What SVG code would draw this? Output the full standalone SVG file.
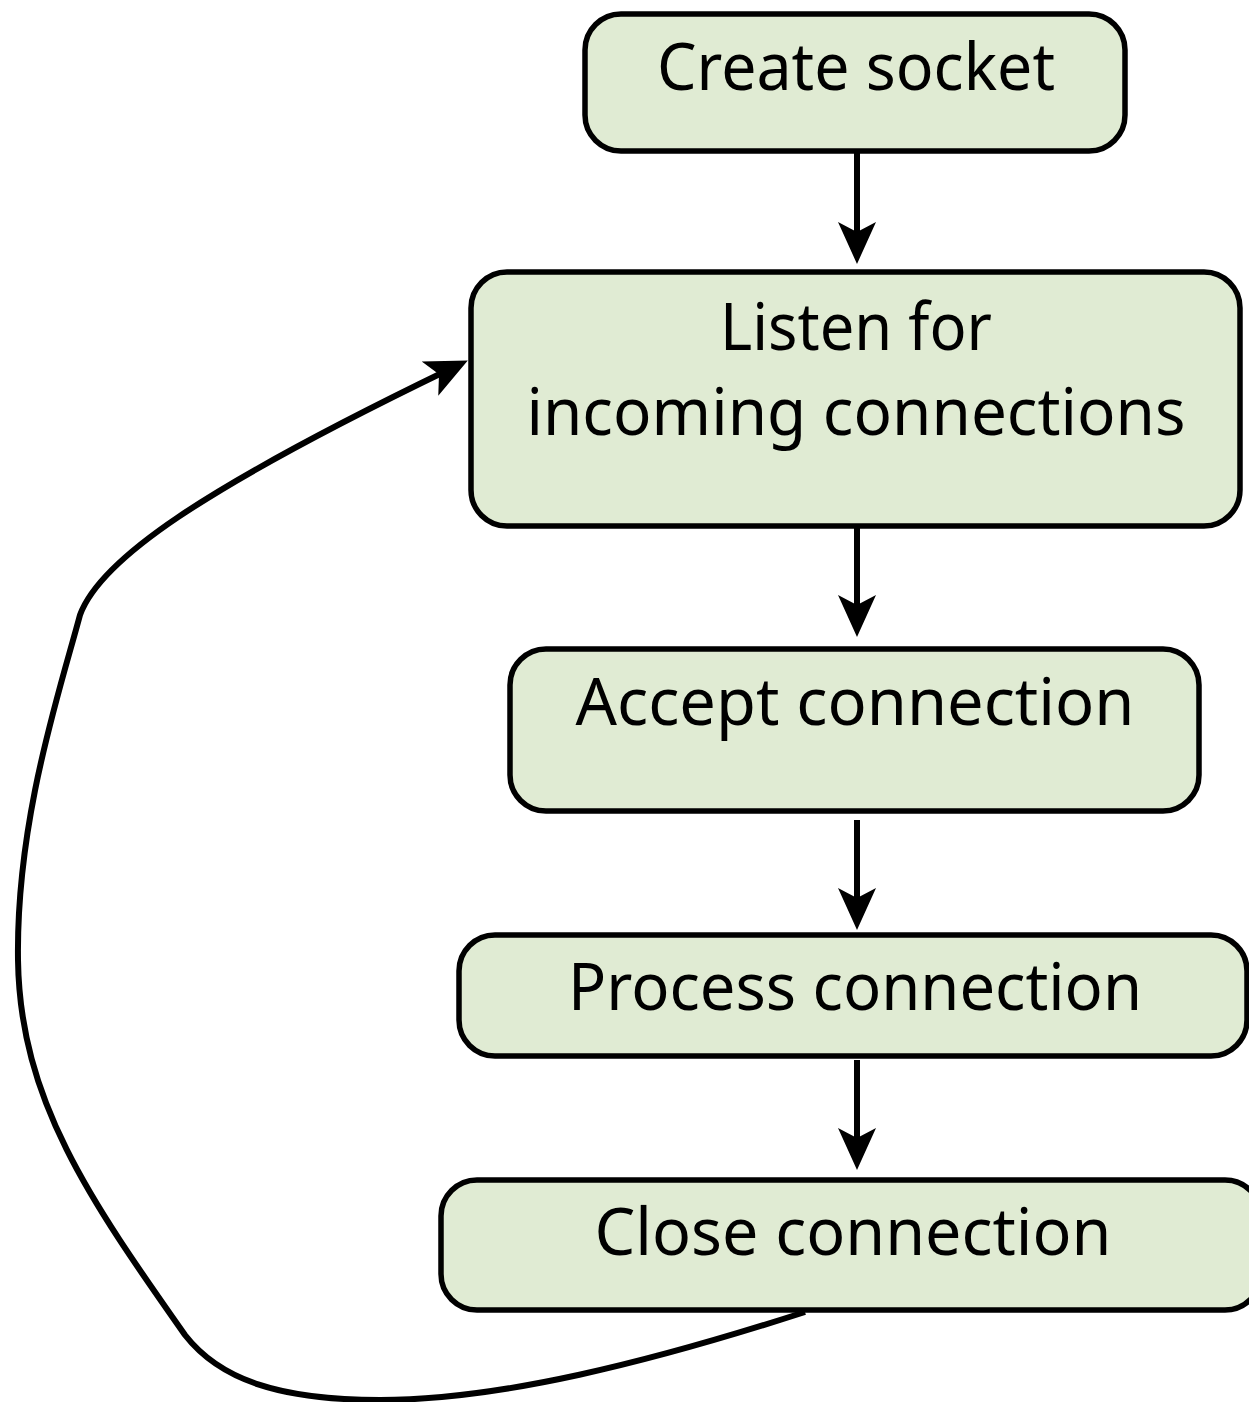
<svg xmlns="http://www.w3.org/2000/svg" width="1249" height="1402" viewBox="0 0 1249 1402">
  <style>
    .box { fill: #e0ebd3; stroke: #000; stroke-width: 5.5; }
    .lbl { font-family: "Noto Sans", "Open Sans", sans-serif; font-size: 66px; fill: #000; text-anchor: middle; }
    .edge { fill: none; stroke: #000; stroke-width: 6; }
  </style>
  <defs>
    <!-- arrowhead with a notched back; tip sits 22px past the path end -->
    <marker id="head" markerUnits="userSpaceOnUse" markerWidth="46" markerHeight="42" viewBox="0 0 46 42" refX="22" refY="21" orient="auto">
      <path d="M44,21 L2,2 L12,21 L2,40 Z" fill="#000"/>
    </marker>
  </defs>

  <rect width="1249" height="1402" fill="#fff"/>

  <g id="edges">
    <path class="edge" d="M857,153 L857,242" marker-end="url(#head)"/>
    <path class="edge" d="M857,528 L857,615" marker-end="url(#head)"/>
    <path class="edge" d="M857,820 L857,908" marker-end="url(#head)"/>
    <path class="edge" d="M857,1060 L857,1148" marker-end="url(#head)"/>
    <path class="edge" d="M805,1312 C650,1362 500,1400 380,1400 C280,1400 220,1380 185,1335 C90,1200 20,1100 18,960 C16,820 60,690 80,615 C100,560 200,490 448,370" marker-end="url(#head)"/>
  </g>

  <g id="create-socket">
    <rect class="box" x="585" y="14" width="540" height="137" rx="36"/>
    <text class="lbl" x="856" y="90" textLength="398" lengthAdjust="spacingAndGlyphs">Create socket</text>
  </g>

  <g id="listen">
    <rect class="box" x="471" y="272" width="769" height="254" rx="36"/>
    <text class="lbl" x="856" y="350" textLength="272" lengthAdjust="spacingAndGlyphs">Listen for</text>
    <text class="lbl" x="856" y="435" textLength="659" lengthAdjust="spacingAndGlyphs">incoming connections</text>
  </g>

  <g id="accept">
    <rect class="box" x="510" y="649" width="689" height="162" rx="36"/>
    <text class="lbl" x="855" y="725" textLength="559" lengthAdjust="spacingAndGlyphs">Accept connection</text>
  </g>

  <g id="process">
    <rect class="box" x="459" y="935" width="788" height="121" rx="36"/>
    <text class="lbl" x="855" y="1010" textLength="574" lengthAdjust="spacingAndGlyphs">Process connection</text>
  </g>

  <g id="close">
    <rect class="box" x="441" y="1180" width="820" height="130" rx="36"/>
    <text class="lbl" x="853" y="1255" textLength="517" lengthAdjust="spacingAndGlyphs">Close connection</text>
  </g>
</svg>
